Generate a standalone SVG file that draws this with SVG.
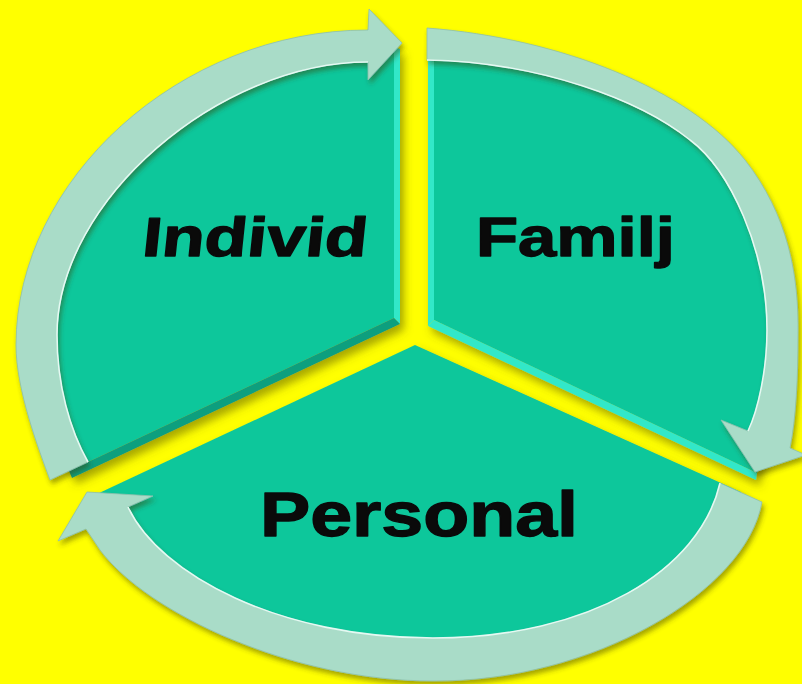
<svg xmlns="http://www.w3.org/2000/svg" width="802" height="684" viewBox="0 0 802 684">
<defs>
<filter id="shadow" x="-20%" y="-20%" width="140%" height="140%">
<feDropShadow dx="4" dy="6" stdDeviation="4" flood-color="#4d4d00" flood-opacity="0.5"/>
</filter>
<filter id="ringShadow" x="-20%" y="-20%" width="140%" height="140%">
<feDropShadow dx="2" dy="4" stdDeviation="2.5" flood-color="#3d3d00" flood-opacity="0.45"/>
</filter>
</defs>
<style>
.face{fill:#0FC79B}
.side-lt{fill:#33E8C8}
.side-dk{fill:#0A9F7E}
.ring{fill:#A9DCC8;stroke:#8DBFAC;stroke-width:0.8}
.hl{fill:none;stroke:#F0FFFA;stroke-width:1.6;opacity:0.9}
.label{font-family:"Liberation Sans",Arial,sans-serif;font-weight:bold;fill:#0a0a0a;stroke:#0a0a0a;stroke-width:1.3;stroke-linejoin:round}
</style>
<rect width="802" height="684" fill="#FFFF00"/>

<g id="node-individ">
<g filter="url(#shadow)">
<path class="face" d="M394,318 L394,47 C215,47 37,190 37,340 C37,400 52,440 69,471 Z"/>
<path class="side-lt" d="M394,47 L400,49 L400,324 L394,318 Z"/>
<path class="side-dk" d="M394,318 L400,324 L72,478 L69,471 Z"/>
</g>
<text class="label" transform="translate(141,256) skewX(-6)" x="0" y="0" font-size="55" textLength="225" lengthAdjust="spacingAndGlyphs">Individ</text>
</g>

<g id="node-familj">
<g filter="url(#shadow)">
<path class="face" d="M434,320 L434,44 C560,50 680,100 735,170 C770,215 783,270 783,330 C783,400 772,445 757,473 Z"/>
<path class="side-lt" d="M428,46 L434,44 L434,320 L428,326 Z"/>
<path class="side-lt" d="M428,326 L434,320 L757,473 L756,480 Z"/>
</g>
<text class="label" x="476" y="256" font-size="55" textLength="199" lengthAdjust="spacingAndGlyphs">Familj</text>
</g>

<g id="node-personal">
<g filter="url(#shadow)">
<path class="face" d="M415,345 L741,492 C735,560 620,660 433,660 C320,660 180,610 97,494 Z"/>
</g>
<text class="label" x="260" y="536" font-size="63" textLength="318" lengthAdjust="spacingAndGlyphs">Personal</text>
</g>

<g id="connectors">
<g filter="url(#ringShadow)">
<path id="arrow-individ-familj" class="ring" d="M50,480 C39,450 16,390 16,345 C16,180 180,30 368,30 L369,9 L402,43 L368,80 L368,62 C220,62 57,200 57,335 C57,385 70,430 88,462 Z"/>
<path id="arrow-familj-personal" class="ring" d="M427,28 C560,38 690,90 745,160 C788,215 799,275 798,335 C798,378 796,418 790,448 L806,455 L755,472 L721,420 L748,431 C758,410 767,370 767,330 C767,250 730,170 690,140 C640,100 540,62 427,60 Z"/>
<path id="arrow-personal-individ" class="ring" d="M762,502 C746,592 592,682 433,681 C293,681 148,614 100,550 L86,529 L58,541 L87,492 L153,496 L128,507 C160,575 280,638 433,638 C590,638 700,570 720,483 Z"/>
</g>
<path class="hl" d="M368,62 C220,62 57,200 57,335 C57,385 70,430 88,462"/>
<path class="hl" d="M748,431 C758,410 767,370 767,330 C767,250 730,170 690,140 C640,100 540,62 427,60"/>
<path class="hl" d="M128,507 C160,575 280,638 433,638 C590,638 700,570 720,483"/>
</g>
</svg>
